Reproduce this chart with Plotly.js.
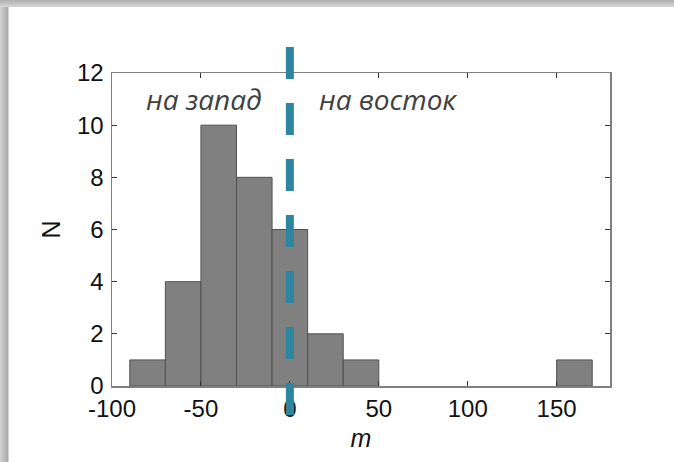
<!DOCTYPE html>
<html>
<head>
<meta charset="utf-8">
<script src="https://cdn.plot.ly/plotly-3.0.1.min.js"></script>
<style>
html,body{margin:0;padding:0;}
body{width:674px;height:462px;overflow:hidden;
background:
 linear-gradient(to bottom,#b0b0b0 0px,#d6d6d6 7px,rgba(255,255,255,0) 7px),
 linear-gradient(to right,#d4d4d4 0px,#a9a9a9 8px,rgba(255,255,255,0) 9px),
 #ffffff;}
#chart{width:674px;height:462px;}
</style>
</head>
<body>
<div id="chart"></div>
<script>
// bin centres (bin width 20) and counts
const binCenters = [-80, -60, -40, -20, 0, 20, 40, 60, 80, 100, 120, 140, 160];
const counts     = [1, 4, 10, 8, 6, 2, 1, 0, 0, 0, 0, 0, 1];
const binWidth = 20;
const xTicks = [-100, -50, 0, 50, 100, 150];
const yTicks = [0, 2, 4, 6, 8, 10, 12];
const xRange = [-100, 180];
const yRange = [0, 12];
const divider = 0;
const labels = [
  {text: 'на запад', x: -48, y: 11},
  {text: 'на восток', x: 55, y: 11}
];

const tickFont = {family: 'Liberation Sans, Arial, sans-serif', size: 24, color: '#111'};

// empty bins are not drawn
const keep = counts.map((c, i) => c > 0 ? i : -1).filter(i => i >= 0);

const trace = {
  type: 'bar',
  x: keep.map(i => binCenters[i]),
  y: keep.map(i => counts[i]),
  width: keep.map(() => binWidth),
  marker: {color: '#808080', line: {color: '#505050', width: 1}},
  hoverinfo: 'skip'
};

const divPaperX = (divider - xRange[0]) / (xRange[1] - xRange[0]);

const layout = {
  width: 674, height: 462,
  margin: {l: 112, r: 64, t: 73, b: 76, pad: 0},
  paper_bgcolor: 'rgba(0,0,0,0)',
  plot_bgcolor: '#ffffff',
  showlegend: false,
  bargap: 0,
  xaxis: {
    range: xRange, tickvals: xTicks, ticktext: xTicks.map(String),
    ticks: 'inside', ticklen: 5, tickcolor: '#333', tickwidth: 1,
    showline: true, linecolor: '#808080', linewidth: 1.5, mirror: 'ticks',
    showgrid: false, zeroline: false, tickfont: tickFont,
    ticklabelstandoff: 1,
    title: {text: 'm', font: {family: 'Liberation Sans, Arial, sans-serif', size: 25, style: 'italic', color: '#111'}, standoff: 8}
  },
  yaxis: {
    range: yRange, tickvals: yTicks, ticktext: yTicks.map(String),
    ticks: 'inside', ticklen: 5, tickcolor: '#333', tickwidth: 1,
    showline: true, linecolor: '#808080', linewidth: 1.5, mirror: 'ticks',
    showgrid: false, zeroline: false, tickfont: tickFont,
    ticklabelstandoff: 2,
    title: {text: 'N', font: {family: 'Liberation Sans, Arial, sans-serif', size: 25, color: '#111'}, standoff: 9}
  },
  annotations: labels.map(l => ({
    text: l.text, x: l.x, y: l.y, xref: 'x', yref: 'y',
    showarrow: false, xanchor: 'center', yanchor: 'middle',
    font: {family: 'Open Sans, sans-serif', size: 28, style: 'italic', color: '#404040'}
  })),
  shapes: [{
    type: 'line', xref: 'paper', yref: 'paper',
    x0: divPaperX, x1: divPaperX, y0: 1.083, y1: -0.093,
    line: {color: '#2d869d', width: 8, dash: '32px,24px'},
    layer: 'above'
  }]
};

Plotly.newPlot('chart', [trace], layout, {displayModeBar: false, staticPlot: true});
</script>
</body>
</html>
